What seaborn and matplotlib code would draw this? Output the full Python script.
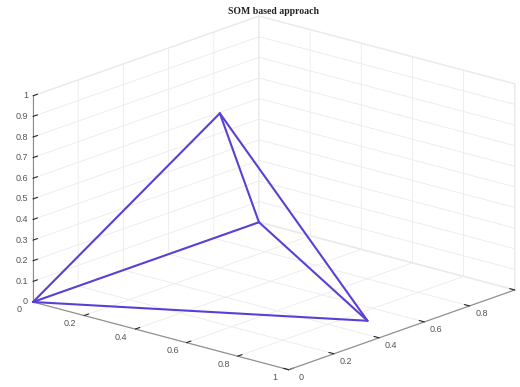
import numpy as np
import matplotlib
matplotlib.use("Agg")
import matplotlib.pyplot as plt
import seaborn as sns

# ---- data (vertices of the tetrahedron and its edges) ----
vx = [0.0, 0.866, 0.0, 0.2887]
vy = [0.0, 0.5, 1.0, 0.5]
vz = [0.0, 0.0, 0.0, 0.8165]
edges = [(0, 1), (1, 2), (2, 0), (0, 3), (1, 3), (2, 3)]

x_ticks = [0, 0.2, 0.4, 0.6, 0.8, 1.0]
x_labels = ["0", "0.2", "0.4", "0.6", "0.8", "1"]
y_ticks = [0, 0.2, 0.4, 0.6, 0.8, 1.0]
y_labels = ["0", "0.2", "0.4", "0.6", "0.8", ""]
z_ticks = [0, 0.1, 0.2, 0.3, 0.4, 0.5, 0.6, 0.7, 0.8, 0.9, 1.0]
z_labels = ["0", "0.1", "0.2", "0.3", "0.4", "0.5", "0.6", "0.7", "0.8", "0.9", "1"]
title = "SOM based approach"

sns.set_style("white")
plt.rcParams["font.family"] = ["Liberation Sans", "DejaVu Sans"]
plt.rcParams["grid.color"] = "#ebebeb"
plt.rcParams["grid.linewidth"] = 0.6

W, H = 520, 387
fig = plt.figure(figsize=(W / 100, H / 100), dpi=100)
fig.patch.set_facecolor("white")
ax = fig.add_axes([0, 0, 1, 1], projection="3d")
ax.set_proj_type("ortho")
ax.view_init(elev=17.8, azim=-49.1)
aspect = (1.0, 1.02, 0.64)
ax.set_box_aspect(aspect, zoom=1.0)

line_color = "#5b3fd4"
for a, b in edges:
    ln, = ax.plot([vx[a], vx[b]], [vy[a], vy[b]], [vz[a], vz[b]],
                  color=line_color, lw=1.5, solid_capstyle="round")
    ln.set_clip_on(False)

for setlim, lo, hi in ((ax.set_xlim, 0, 1), (ax.set_ylim, 0, 1), (ax.set_zlim, 0, 1)):
    try:
        setlim(lo, hi, view_margin=0)
    except TypeError:
        setlim(lo, hi)

ax.set_xticks(x_ticks)
ax.set_xticklabels([""] * len(x_ticks))
ax.set_yticks(y_ticks)
ax.set_yticklabels([""] * len(y_ticks))
ax.set_zticks(z_ticks)
ax.set_zticklabels([""] * len(z_ticks))

for axis in (ax.xaxis, ax.yaxis, ax.zaxis):
    axis.pane.set_facecolor("white")
    axis.pane.set_edgecolor("#ebebeb")
    axis.pane.set_alpha(1.0)
    axis.line.set_color("#8c8c8c")
    axis.line.set_linewidth(0.8)
    axis._axinfo["tick"]["inward_factor"] = 0.0
    axis._axinfo["tick"]["outward_factor"] = 0.25
    axis._axinfo["tick"]["color"] = "#8c8c8c"
    axis._axinfo["grid"]["color"] = "#ebebeb"
    axis._axinfo["grid"]["linewidth"] = 0.6
ax.tick_params(axis="both", width=0.6)

fig.text(273 / W, 1 - 11 / H, title, ha="center", va="center",
         fontsize=7, fontweight="bold", family="Liberation Serif", color="#222222")


def proj(pt):
    M = ax.get_proj()
    v = M @ np.array([pt[0], pt[1], pt[2], 1.0])
    d = ax.transData.transform((v[0] / v[3], v[1] / v[3]))
    return np.array([d[0], H - d[1]])


# ---- put the z axis on the left edge ----
best = None
for pos in ("default", "lower", "upper"):
    try:
        ax.zaxis.set_ticks_position(pos)
    except Exception:
        continue
    fig.canvas.draw()
    xd, yd = ax.zaxis.line.get_data()
    xdisp = ax.transData.transform(np.column_stack([xd, yd]))[:, 0].mean()
    if best is None or xdisp < best[1]:
        best = (pos, xdisp)
if best is not None:
    ax.zaxis.set_ticks_position(best[0])

# ---- fit the plot box to the reference layout ----
fig.canvas.draw()
p0 = proj((0, 0, 0))
p1 = proj((1, 1, 0))
pt = proj((0, 1, 1))
pb = proj((1, 0, 0))
kx = (517 - 33) / (p1[0] - p0[0])
ky = (370 - 18) / (pb[1] - pt[1])
k = 0.5 * (kx + ky)
ax.set_box_aspect(aspect, zoom=k)
fig.canvas.draw()
p0 = proj((0, 0, 0))
dx = (33 - p0[0]) / W
dy = -(302 - p0[1]) / H
ax.set_position([dx, dy, 1, 1])
fig.canvas.draw()

# ---- tick labels placed beside the projected tick positions ----
lab_kw = dict(fontsize=6.5, color="#555555")
for v, s in zip(x_ticks, x_labels):
    p = proj((v, 0, 0))
    fig.text((p[0] - 14) / W, 1 - (p[1] + 8) / H, s, ha="center", va="center", **lab_kw)
for v, s in zip(y_ticks, y_labels):
    p = proj((1, v, 0))
    fig.text((p[0] + 12) / W, 1 - (p[1] + 8) / H, s, ha="center", va="center", **lab_kw)
for v, s in zip(z_ticks, z_labels):
    p = proj((0, 0, v))
    fig.text((p[0] - 5) / W, 1 - p[1] / H, s, ha="right", va="center", **lab_kw)

fig.savefig("out.png", dpi=100, facecolor="white")
